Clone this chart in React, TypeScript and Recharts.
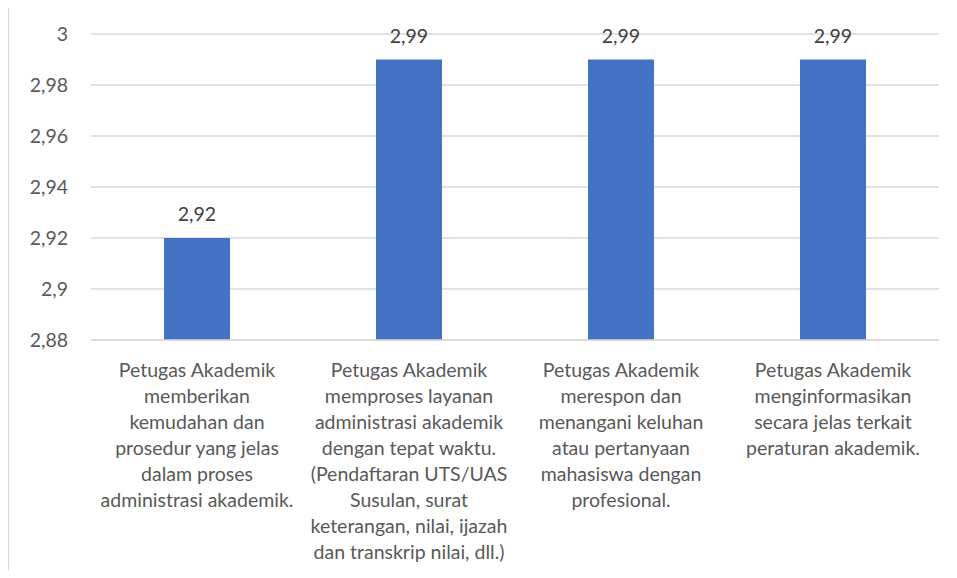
import React from 'react';
import { BarChart, Bar, XAxis, YAxis, CartesianGrid, LabelList } from 'recharts';

const CATEGORY_LINES = [
  ['Petugas Akademik', 'memberikan', 'kemudahan dan', 'prosedur yang jelas', 'dalam proses', 'administrasi akademik.'],
  ['Petugas Akademik', 'memproses layanan', 'administrasi akademik', 'dengan tepat waktu.', '(Pendaftaran UTS/UAS', 'Susulan, surat', 'keterangan, nilai, ijazah', 'dan transkrip nilai, dll.)'],
  ['Petugas Akademik', 'merespon dan', 'menangani keluhan', 'atau pertanyaan', 'mahasiswa dengan', 'profesional.'],
  ['Petugas Akademik', 'menginformasikan', 'secara jelas terkait', 'peraturan akademik.'],
];
const VALUES = [2.92, 2.99, 2.99, 2.99];
const Y_TICKS = [2.88, 2.9, 2.92, 2.94, 2.96, 2.98, 3];

const data = VALUES.map((v, i) => ({ name: String(i), value: v }));

const FONT = 'Lato, Carlito, Calibri, sans-serif';
const TEXT = '#595959';

const fmt = (v: number) => Number(v.toFixed(2)).toString().replace('.', ',');

const YTick = (props: any) => {
  const { y, payload } = props;
  return (
    <text x={68} y={y} dy={7} textAnchor="end" fill={TEXT} fontSize={19.5} fontFamily={FONT}>
      {fmt(payload.value)}
    </text>
  );
};

const XTick = (props: any) => {
  const { x, payload } = props;
  const lines = CATEGORY_LINES[Number(payload.value)] || [];
  return (
    <text x={x} y={377} textAnchor="middle" fill={TEXT} fontSize={19.5} fontFamily={FONT}>
      {lines.map((l, i) => (
        <tspan key={i} x={x} dy={i === 0 ? 0 : 26}>{l}</tspan>
      ))}
    </text>
  );
};

export default function App() {
  return (
    <div style={{ margin: -8, width: 957, height: 578, position: 'relative', background: '#fff', overflow: 'hidden' }}>
      <div style={{ position: 'absolute', left: 8, top: 4, right: -2, bottom: -2, border: '1.5px solid #d9d9d9' }} />
      <div style={{ position: 'absolute', left: 0, top: 0 }}>
        <BarChart width={957} height={578} data={data} margin={{ top: 34, right: 18, bottom: 208, left: 0 }}>
          <CartesianGrid vertical={false} stroke="#d9d9d9" strokeWidth={1.5} />
          <XAxis dataKey="name" height={30} tickLine={false} axisLine={{ stroke: '#d9d9d9', strokeWidth: 1.5 }} tick={<XTick />} interval={0} />
          <YAxis width={91} domain={[2.88, 3]} ticks={Y_TICKS} axisLine={false} tickLine={false} tick={<YTick />} allowDataOverflow />
          <Bar dataKey="value" fill="#4472C4" barSize={66} isAnimationActive={false}>
            <LabelList dataKey="value" position="top" offset={17} formatter={(v: any) => fmt(Number(v))} style={{ fill: '#404040', fontSize: 19.5, fontFamily: FONT }} />
          </Bar>
        </BarChart>
      </div>
    </div>
  );
}
